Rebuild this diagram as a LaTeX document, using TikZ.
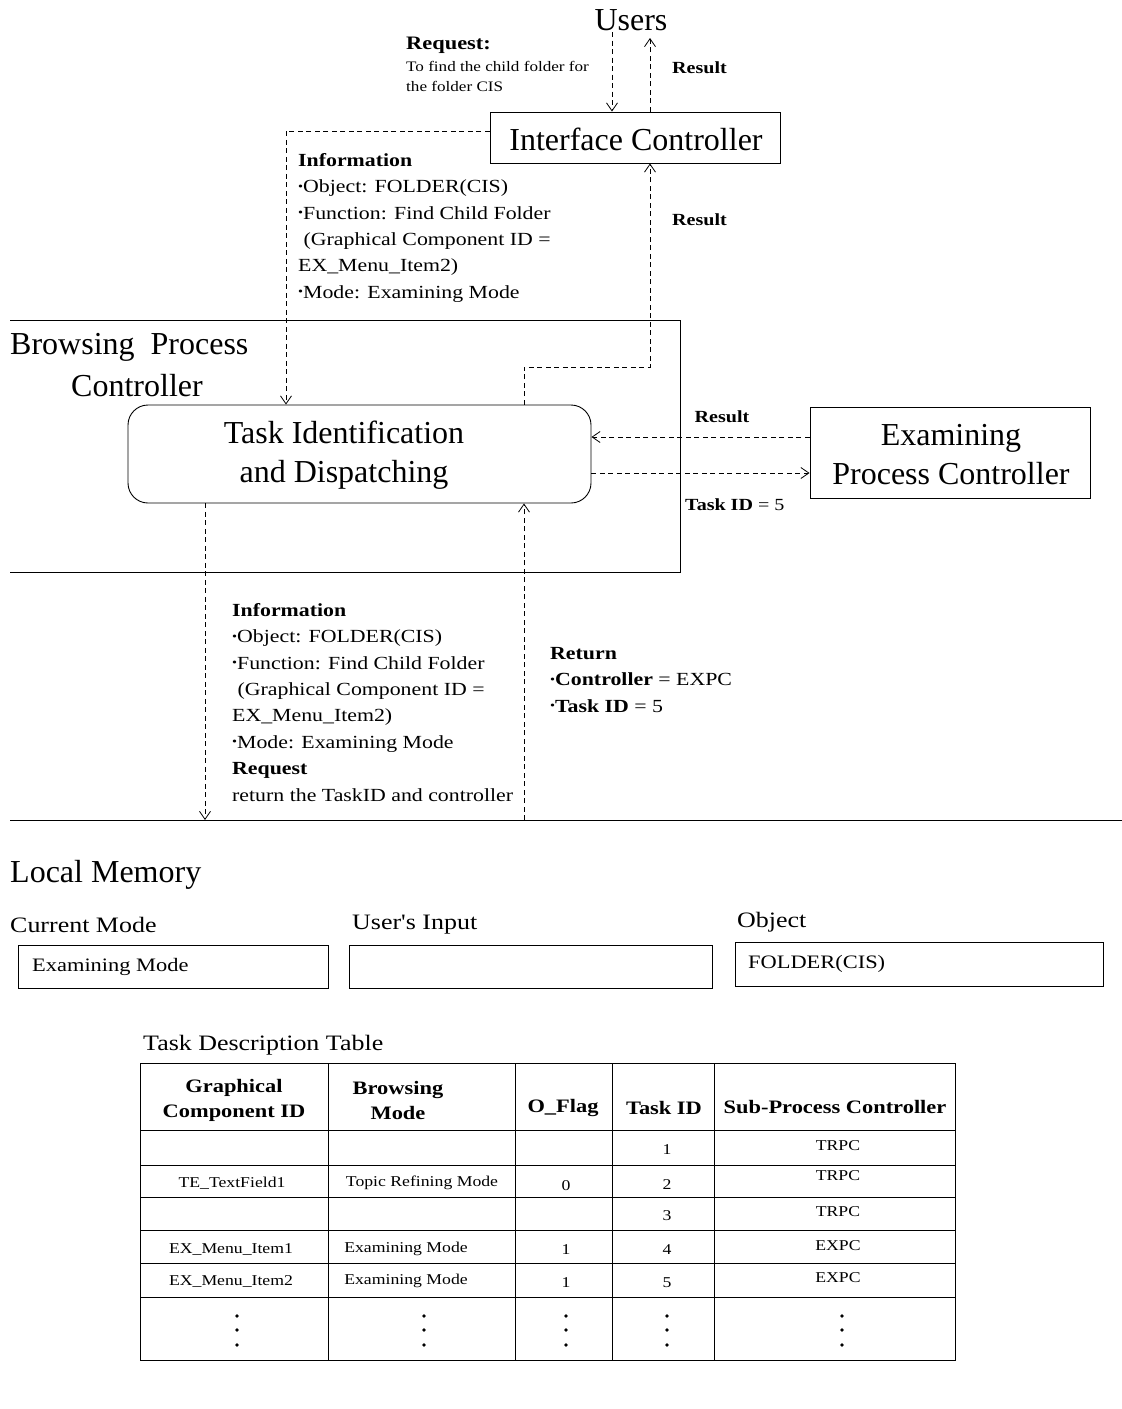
\documentclass[tikz,border=0pt]{standalone}
\usepackage{fontspec}
\setmainfont{Liberation Serif}
\newfontfamily\sm{Liberation Serif}[FakeStretch=1.18]
\usetikzlibrary{arrows.meta}
\newcommand\bul{\raisebox{.3ex}{\scalebox{.65}{\textbullet}}}
\begin{document}
\begin{tikzpicture}[x=1pt,y=-1pt,
  big/.style={font=\fontsize{32}{39}\selectfont, align=center, inner sep=0},
  mid/.style={font=\sm\fontsize{22}{26}\selectfont, inner sep=0, anchor=west},
  info/.style={font=\sm\fontsize{18.5}{26.4}\selectfont, align=left, inner sep=0, anchor=north west},
  lbl/.style={font=\sm\bfseries\fontsize{17}{20}\selectfont, inner sep=0},
  cell/.style={font=\sm\fontsize{15}{18}\selectfont, inner sep=0},
  head/.style={font=\sm\bfseries\fontsize{19}{25}\selectfont, align=center, inner sep=0},
  frame/.style={draw, line width=0.9pt},
  wall/.style={line width=0.9pt},
  link/.style={draw, line width=0.8pt, dash pattern=on 5pt off 3.5pt,
    -{Straight Barb[length=8pt,width=11pt]}},
  dot/.style={fill, circle, inner sep=0, minimum size=3.8pt}]
\fill[white] (0,0) rectangle (1122,1409);
\useasboundingbox (0,0) rectangle (1122,1409);

% ---------- users and interface controller ----------
\node[big] (users) at (631,20) {Users};
\node[frame, minimum width=290, minimum height=51] (ic) at (635,137.5) {};
\node[big] (ictxt) at (636,139) {Interface Controller};
\node[font=\sm\bfseries\fontsize{19}{22}\selectfont, inner sep=0, anchor=west] (reqhead) at (406,45) {Request:};
\node[font=\sm\fontsize{14.5}{20}\selectfont, align=left, inner sep=0, anchor=north west] (reqtxt) at (406,61)
  {To find the child folder for\\the folder CIS};
\node[lbl, anchor=west] (res1) at (672,68) {Result};
\coordinate (ua) at (612,32);
\coordinate (ub) at (650,38);
\draw[link] (ua) -- (ic.north -| ua);
\draw[link] (ic.north -| ub) -- (ub);

% ---------- browsing process controller ----------
\coordinate (bpTL) at (10,320);
\coordinate (bpTR) at (680,320);
\coordinate (bpBR) at (680,572);
\coordinate (bpBL) at (10,572);
\draw[wall] (bpTL) -- (bpTR) -- (bpBR) -- (bpBL);
\node[big, anchor=west] (bptitle1) at (10,347) {Browsing\ \ Process};
\node[big] (bptitle2) at (137,386) {Controller};

\node[frame, rounded corners=20pt, minimum width=463, minimum height=98] (task) at (359.5,454) {};
\node[big] (tasktxt) at (344,455) {Task Identification\\and Dispatching};

\node[frame, minimum width=280, minimum height=91] (ex) at (950,452.5) {};
\node[big] (extxt) at (951,455) {Examining\\Process Controller};

% request coming down from the interface controller
\node[info] (info1) at (298,153) {\textbf{Information}\\
  \bul Object: FOLDER(CIS)\\
  \bul Function: Find Child Folder\\
  \ (Graphical Component ID =\\
  EX\_Menu\_Item2)\\
  \bul Mode: Examining Mode};
\coordinate (lk1) at (286,131);
\draw[link] (ic.west |- lk1) -- (lk1) -- (task.north -| lk1);

% result going back up to the interface controller
\coordinate (rk1) at (524,367);
\coordinate (rk2) at (650,367);
\draw[link] (task.north -| rk1) -- (rk1) -- (rk2) -- (ic.south -| rk2);
\node[lbl, anchor=west] (res2) at (672,220) {Result};

% exchange with the examining process controller
\coordinate (ea) at (0,437);
\coordinate (eb) at (0,473);
\draw[link] (ex.west |- ea) -- (task.east |- ea);
\draw[link] (task.east |- eb) -- (ex.west |- eb);
\node[lbl] (res3) at (722,417) {Result};
\node[font=\sm\fontsize{17}{20}\selectfont, inner sep=0, anchor=west] (tid) at (685,505) {\textbf{Task ID} = 5};

% ---------- exchange with local memory ----------
\coordinate (memL) at (10,820);
\coordinate (memR) at (1122,820);
\draw[wall] (memL) -- (memR);
\coordinate (dn) at (205,820);
\coordinate (up) at (524,820);
\draw[link] (task.south -| dn) -- (dn);
\draw[link] (up) -- (task.south -| up);

\node[info] (info2) at (232,603) {\textbf{Information}\\
  \bul Object: FOLDER(CIS)\\
  \bul Function: Find Child Folder\\
  \ (Graphical Component ID =\\
  EX\_Menu\_Item2)\\
  \bul Mode: Examining Mode\\
  \textbf{Request}\\
  return the TaskID and controller};
\node[info] (ret) at (550,647) {\textbf{Return}\\
  \bul\textbf{Controller} = EXPC\\
  \bul\textbf{Task ID} = 5};

% ---------- local memory ----------
\node[big, anchor=west] (lm) at (10,875) {Local Memory};
\node[mid] (cmlbl) at (10,925) {Current Mode};
\node[mid] (uilbl) at (352,925) {User's Input};
\node[mid] (oblbl) at (737,922) {Object};
\node[frame, minimum width=310, minimum height=43] (cmbox) at (173,966.5) {};
\node[frame, minimum width=363, minimum height=43] (uibox) at (530.5,966.5) {};
\node[frame, minimum width=368, minimum height=44] (obbox) at (919,964) {};
\node[font=\sm\fontsize{19}{22}\selectfont, inner sep=0, anchor=west] (cmval) at (32,967) {Examining Mode};
\node[font=\sm\fontsize{19}{22}\selectfont, inner sep=0, anchor=west] (obval) at (748,964) {FOLDER(CIS)};

% ---------- task description table ----------
\node[mid] (tdt) at (143,1045) {Task Description Table};
\draw[wall] (140,1063) rectangle (955,1360);
\foreach \x in {328,515,612,714} \draw[wall] (\x,1063) -- (\x,1360);
\foreach \y in {1130,1165,1197,1230,1263,1297} \draw[wall] (140,\y) -- (955,\y);

\node[head] (h1) at (234,1100) {Graphical\\Component ID};
\node[head] (h2) at (398,1100) {Browsing\\Mode};
\node[head] (h3) at (563,1108) {O\_Flag};
\node[head] (h4) at (664,1108) {Task ID};
\node[head] (h5) at (835,1107) {Sub-Process Controller};

\node[cell] (r1d) at (667,1150) {1};
\node[cell] (r1e) at (838,1146) {TRPC};
\node[cell] (r2a) at (232,1183) {TE\_TextField1};
\node[cell] (r2b) at (422,1183) {Topic Refining Mode};
\node[cell] (r2c) at (566,1186) {0};
\node[cell] (r2d) at (667,1185) {2};
\node[cell] (r2e) at (838,1176) {TRPC};
\node[cell] (r3d) at (667,1216) {3};
\node[cell] (r3e) at (838,1212) {TRPC};
\node[cell] (r4a) at (231,1249) {EX\_Menu\_Item1};
\node[cell] (r4b) at (406,1249) {Examining Mode};
\node[cell] (r4c) at (566,1250) {1};
\node[cell] (r4d) at (667,1250) {4};
\node[cell] (r4e) at (838,1246) {EXPC};
\node[cell] (r5a) at (231,1281) {EX\_Menu\_Item2};
\node[cell] (r5b) at (406,1281) {Examining Mode};
\node[cell] (r5c) at (566,1283) {1};
\node[cell] (r5d) at (667,1283) {5};
\node[cell] (r5e) at (838,1278) {EXPC};

\foreach \x/\n in {237/a,424/b,566/c,667/d,842/e}
  \foreach \y/\m in {1316/1,1330/2,1345/3}
    \node[dot] (dot\n\m) at (\x,\y) {};
\end{tikzpicture}
\end{document}
